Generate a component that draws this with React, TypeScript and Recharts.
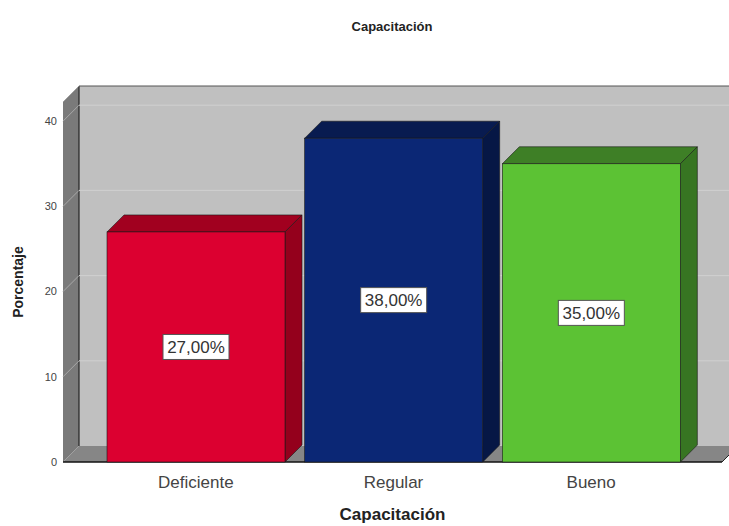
// 3D-looking bar chart (SPSS style) for "Capacitación" percentages

import React from 'react';
import { BarChart, Bar, XAxis, YAxis, CartesianGrid, ReferenceArea, LabelList } from 'recharts';

const categories = ['Deficiente', 'Regular', 'Bueno'];
const percentages = [27, 38, 35];
const valueLabels = ['27,00%', '38,00%', '35,00%'];
const yTicks = [0, 10, 20, 30, 40];
const gridValues = [10, 20, 30, 40];

const data = categories.map((name, i) => ({
  name,
  value: percentages[i],
  label: valueLabels[i],
}));

const WIDTH = 729;
const HEIGHT = 526;
const Y_MAX = 42.25;
const WALL_D = 16; // depth of the back wall / floor
const BAR_D = 17; // depth of the bars
const PAD_L = 34;
const PAD_R = 32;
const FONT = '"Liberation Sans", Arial, sans-serif';

const barColors = [
  { front: '#dc0030', top: '#a1001f', side: '#94001c' },
  { front: '#0b2775', top: '#081b50', side: '#061745' },
  { front: '#5cc234', top: '#3e7f26', side: '#377522' },
];

// walls: side wall, floor and back wall, drawn from the plot rectangle
const Walls = (props: any) => {
  const { x, y, width, height } = props;
  const d = WALL_D;
  const left = x - PAD_L;
  const right = x + width + PAD_R;
  const top = y;
  const bottom = y + height;
  return (
    <g>
      <rect x={left + d} y={top - d} width={right - left} height={height} fill="#c0c0c0" />
      <polygon
        points={`${left},${top} ${left + d},${top - d} ${left + d},${bottom - d} ${left},${bottom}`}
        fill="#7a7a7a"
      />
      <polygon
        points={`${left},${bottom} ${left + d},${bottom - d} ${right + d},${bottom - d} ${right},${bottom}`}
        fill="#868686"
      />
      <line x1={left + d} y1={top - d} x2={left + d} y2={bottom - d} stroke="#222" strokeWidth={1.2} />
      <line x1={left + d} y1={top - d} x2={right + d} y2={top - d} stroke="#555" strokeWidth={1} />
      <line x1={left} y1={top} x2={left + d} y2={top - d} stroke="#999" strokeWidth={0.8} />
      <line x1={left} y1={bottom} x2={right} y2={bottom} stroke="#111" strokeWidth={1.5} />
      <line x1={right} y1={bottom} x2={right + d} y2={bottom - d} stroke="#222" strokeWidth={1} />
    </g>
  );
};

const GridLine = (p: any) => {
  const { x1, x2, y1 } = p;
  const d = WALL_D;
  return (
    <g key={`grid-${y1}`}>
      <line x1={x1} y1={y1} x2={x1 + d} y2={y1 - d} stroke="#a8a8a8" strokeWidth={1} />
      <line x1={x1 + d} y1={y1 - d} x2={x2 + d} y2={y1 - d} stroke="#d0d0d0" strokeWidth={1} />
    </g>
  );
};

const Bar3D = (props: any) => {
  const { x, y, width, height, index } = props;
  const c = barColors[index % barColors.length];
  const d = BAR_D;
  return (
    <g>
      <polygon
        points={`${x},${y} ${x + d},${y - d} ${x + width + d},${y - d} ${x + width},${y}`}
        fill={c.top}
        stroke="#1a1a1a"
        strokeWidth={0.6}
      />
      <polygon
        points={`${x + width},${y} ${x + width + d},${y - d} ${x + width + d},${y + height - d} ${x + width},${y + height}`}
        fill={c.side}
        stroke="#1a1a1a"
        strokeWidth={0.6}
      />
      <rect x={x} y={y} width={width} height={height} fill={c.front} stroke="#1a1a1a" strokeWidth={0.6} />
    </g>
  );
};

const ValueBox = (props: any) => {
  const { x, y, width, height, value } = props;
  const cx = x + width / 2;
  const cy = y + height / 2;
  const bw = 66;
  const bh = 25;
  return (
    <g>
      <rect x={cx - bw / 2} y={cy - bh / 2} width={bw} height={bh} fill="#fff" stroke="#555" strokeWidth={1} />
      <text x={cx} y={cy + 6} textAnchor="middle" fontSize={17} fill="#333" fontFamily={FONT}>
        {value}
      </text>
    </g>
  );
};

const YTitle = (p: any) => {
  const vb = p.viewBox || { x: 0, y: 102, width: 63, height: 360 };
  const cx = vb.x + 18;
  const cy = vb.y + vb.height / 2;
  return (
    <text
      x={cx}
      y={cy}
      transform={`rotate(-90, ${cx}, ${cy})`}
      textAnchor="middle"
      dominantBaseline="central"
      fontSize={14}
      fontWeight="bold"
      fill="#222"
      fontFamily={FONT}
    >
      Porcentaje
    </text>
  );
};

const XTitle = (p: any) => {
  const vb = p.viewBox || { x: 63, y: 462, width: 659, height: 64 };
  return (
    <text
      x={vb.x + vb.width / 2}
      y={vb.y + 58}
      textAnchor="middle"
      fontSize={17}
      fontWeight="bold"
      fill="#222"
      fontFamily={FONT}
    >
      Capacitación
    </text>
  );
};

export default function App() {
  return (
    <div style={{ position: 'absolute', left: 0, top: 0, width: WIDTH, height: HEIGHT, background: '#fff' }}>
      <div
        style={{
          position: 'absolute',
          left: 242,
          top: 18,
          width: 300,
          textAlign: 'center',
          fontFamily: FONT,
          fontSize: 13,
          fontWeight: 'bold',
          color: '#222',
          lineHeight: '18px',
        }}
      >
        Capacitación
      </div>
      <BarChart
        width={WIDTH}
        height={HEIGHT}
        data={data}
        margin={{ top: 102, right: 7, bottom: 0, left: 0 }}
        barCategoryGap={10}
      >
        <ReferenceArea y1={0} y2={Y_MAX} ifOverflow="visible" shape={Walls} zIndex={-200} />
        <CartesianGrid vertical={false} horizontalValues={gridValues} horizontal={GridLine} zIndex={-100} />
        <XAxis
          dataKey="name"
          axisLine={false}
          tickLine={false}
          padding={{ left: PAD_L, right: PAD_R }}
          height={64}
          tickMargin={8}
          tick={{ fontSize: 17, fill: '#444', fontFamily: FONT }}
          label={{ content: XTitle }}
        />
        <YAxis
          domain={[0, Y_MAX]}
          ticks={yTicks}
          axisLine={false}
          tickLine={false}
          width={63}
          tickMargin={0}
          tick={{ fontSize: 11, fill: '#444', fontFamily: FONT }}
          label={{ content: YTitle }}
        />
        <Bar dataKey="value" shape={Bar3D} isAnimationActive={false}>
          <LabelList dataKey="label" content={ValueBox} />
        </Bar>
      </BarChart>
    </div>
  );
}
